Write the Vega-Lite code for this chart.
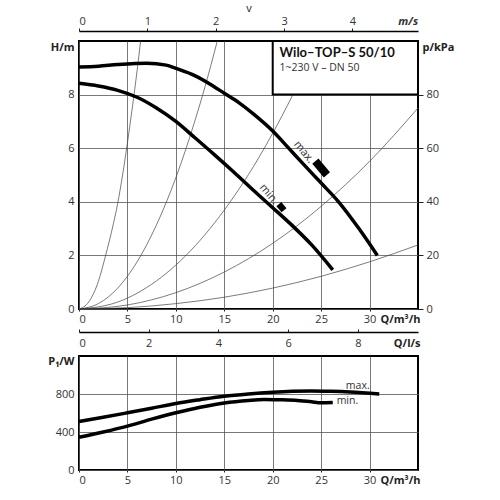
{
  "$schema": "https://vega.github.io/schema/vega-lite/v6.json",
  "background": "white",
  "padding": {"left": 46, "top": 1, "right": 5, "bottom": 5},
  "spacing": 47,
  "bounds": "flush",
  "config": {
    "font": "Open Sans",
    "view": {"stroke": "black", "strokeWidth": 2},
    "axis": {
      "labelFont": "Open Sans", "labelFontSize": 11, "labelColor": "#333",
      "titleFont": "Open Sans", "titleFontSize": 11, "titleColor": "#222", "titleFontWeight": "bold",
      "gridColor": "#555", "gridWidth": 0.8, "gridOpacity": 1,
      "tickColor": "#222", "domainColor": "#222"
    }
  },
  "datasets": {
    "system": [
      {"curve": "a", "Q": 0, "H": 0}, {"curve": "a", "Q": 1, "H": 0.26}, {"curve": "a", "Q": 2, "H": 1.03},
      {"curve": "a", "Q": 2.75, "H": 2.0}, {"curve": "a", "Q": 3.5, "H": 3.1}, {"curve": "a", "Q": 4, "H": 3.95},
      {"curve": "a", "Q": 4.5, "H": 5.0}, {"curve": "a", "Q": 5, "H": 6.2}, {"curve": "a", "Q": 5.5, "H": 7.5},
      {"curve": "a", "Q": 6, "H": 8.9}, {"curve": "a", "Q": 6.36, "H": 10},
      {"curve": "b", "Q": 0, "H": 0}, {"curve": "b", "Q": 2, "H": 0.2}, {"curve": "b", "Q": 4, "H": 0.78},
      {"curve": "b", "Q": 6, "H": 1.76}, {"curve": "b", "Q": 8, "H": 3.14}, {"curve": "b", "Q": 10, "H": 4.9},
      {"curve": "b", "Q": 12, "H": 7.06}, {"curve": "b", "Q": 13, "H": 8.28}, {"curve": "b", "Q": 14.28, "H": 10},
      {"curve": "c", "Q": 0, "H": 0}, {"curve": "c", "Q": 4, "H": 0.26}, {"curve": "c", "Q": 8, "H": 1.05},
      {"curve": "c", "Q": 12, "H": 2.36}, {"curve": "c", "Q": 16, "H": 4.2}, {"curve": "c", "Q": 18, "H": 5.31},
      {"curve": "c", "Q": 20, "H": 6.56}, {"curve": "c", "Q": 22, "H": 7.94}, {"curve": "c", "Q": 24.7, "H": 10},
      {"curve": "d", "Q": 0, "H": 0}, {"curve": "d", "Q": 5, "H": 0.15}, {"curve": "d", "Q": 10, "H": 0.61},
      {"curve": "d", "Q": 15, "H": 1.38}, {"curve": "d", "Q": 20, "H": 2.45}, {"curve": "d", "Q": 25, "H": 3.83},
      {"curve": "d", "Q": 30, "H": 5.51}, {"curve": "d", "Q": 35, "H": 7.5},
      {"curve": "e", "Q": 0, "H": 0}, {"curve": "e", "Q": 5, "H": 0.05}, {"curve": "e", "Q": 10, "H": 0.2},
      {"curve": "e", "Q": 15, "H": 0.44}, {"curve": "e", "Q": 20, "H": 0.78}, {"curve": "e", "Q": 25, "H": 1.22},
      {"curve": "e", "Q": 30, "H": 1.76}, {"curve": "e", "Q": 35, "H": 2.39}
    ],
    "head": [
      {"speed": "max", "Q": 0, "H": 9.03}, {"speed": "max", "Q": 2, "H": 9.06}, {"speed": "max", "Q": 4, "H": 9.12},
      {"speed": "max", "Q": 7, "H": 9.17}, {"speed": "max", "Q": 9, "H": 9.1}, {"speed": "max", "Q": 10, "H": 8.98},
      {"speed": "max", "Q": 12, "H": 8.7}, {"speed": "max", "Q": 13.5, "H": 8.4}, {"speed": "max", "Q": 15, "H": 8.05},
      {"speed": "max", "Q": 16.5, "H": 7.7}, {"speed": "max", "Q": 18, "H": 7.28}, {"speed": "max", "Q": 20, "H": 6.64},
      {"speed": "max", "Q": 21.6, "H": 6.02}, {"speed": "max", "Q": 23, "H": 5.47}, {"speed": "max", "Q": 25, "H": 4.7},
      {"speed": "max", "Q": 26.8, "H": 4.0}, {"speed": "max", "Q": 28.9, "H": 3.0}, {"speed": "max", "Q": 30.8, "H": 2.0},
      {"speed": "min", "Q": 0, "H": 8.42}, {"speed": "min", "Q": 2, "H": 8.32}, {"speed": "min", "Q": 4, "H": 8.16},
      {"speed": "min", "Q": 6, "H": 7.9}, {"speed": "min", "Q": 8, "H": 7.5}, {"speed": "min", "Q": 10, "H": 7.0},
      {"speed": "min", "Q": 12, "H": 6.38}, {"speed": "min", "Q": 14, "H": 5.75}, {"speed": "min", "Q": 16, "H": 5.1},
      {"speed": "min", "Q": 18, "H": 4.43}, {"speed": "min", "Q": 20, "H": 3.78}, {"speed": "min", "Q": 22, "H": 3.12},
      {"speed": "min", "Q": 24, "H": 2.4}, {"speed": "min", "Q": 26.2, "H": 1.46}
    ],
    "power": [
      {"speed": "max", "Q": 0, "P": 511}, {"speed": "max", "Q": 2.5, "P": 555}, {"speed": "max", "Q": 5, "P": 602},
      {"speed": "max", "Q": 7.5, "P": 650}, {"speed": "max", "Q": 10, "P": 700}, {"speed": "max", "Q": 12.5, "P": 740},
      {"speed": "max", "Q": 15, "P": 776}, {"speed": "max", "Q": 17.5, "P": 800}, {"speed": "max", "Q": 20, "P": 818},
      {"speed": "max", "Q": 22, "P": 828}, {"speed": "max", "Q": 24, "P": 832}, {"speed": "max", "Q": 26, "P": 828},
      {"speed": "max", "Q": 28, "P": 820}, {"speed": "max", "Q": 31, "P": 800},
      {"speed": "min", "Q": 0, "P": 344}, {"speed": "min", "Q": 2.5, "P": 400}, {"speed": "min", "Q": 5, "P": 462},
      {"speed": "min", "Q": 7.5, "P": 535}, {"speed": "min", "Q": 10, "P": 602}, {"speed": "min", "Q": 12.5, "P": 660},
      {"speed": "min", "Q": 15, "P": 706}, {"speed": "min", "Q": 17.5, "P": 732}, {"speed": "min", "Q": 19.1, "P": 741},
      {"speed": "min", "Q": 21, "P": 740}, {"speed": "min", "Q": 22.3, "P": 734}, {"speed": "min", "Q": 24, "P": 718},
      {"speed": "min", "Q": 25, "P": 708}, {"speed": "min", "Q": 26.2, "P": 710}
    ]
  },
  "vconcat": [
    {
      "width": 339,
      "height": 268,
      "layer": [
        {
          "encoding": {
            "x": {
              "field": "Q", "type": "quantitative",
              "scale": {"domain": [0, 35], "nice": false},
              "axis": {
                "values": [0, 5, 10, 15, 20, 25, 30], "grid": true, "domain": false,
                "tickSize": 2, "labelPadding": 2,
                "title": "Q/m³/h", "titleX": 341, "titleY": 10, "titleAlign": "right", "titleBaseline": "middle"
              }
            },
            "y": {
              "field": "H", "type": "quantitative",
              "scale": {"domain": [0, 10], "nice": false},
              "axis": {
                "values": [0, 2, 4, 6, 8], "grid": true, "domain": false,
                "tickSize": 0, "labelPadding": 5,
                "title": "H/m", "titleAngle": 0, "titleAlign": "right", "titleBaseline": "middle", "titleX": -5, "titleY": 6
              }
            }
          },
          "layer": [
            {
              "data": {"name": "system"},
              "mark": {"type": "line", "interpolate": "monotone", "stroke": "#444", "strokeWidth": 0.7},
              "encoding": {"detail": {"field": "curve"}}
            },
            {
              "data": {"values": [{"Q": 20, "Q2": 35, "H": 8, "H2": 10}]},
              "mark": {"type": "rect", "fill": "white", "stroke": "black", "strokeWidth": 2},
              "encoding": {"x2": {"field": "Q2"}, "y2": {"field": "H2"}}
            },
            {
              "data": {"values": [{"Q": 20.7, "H": 9.57, "label": "Wilo–TOP–S 50/10"}]},
              "mark": {"type": "text", "align": "left", "baseline": "middle", "font": "Lato", "fontSize": 13, "fontWeight": "bold", "color": "#111"},
              "encoding": {"text": {"field": "label"}}
            },
            {
              "data": {"values": [{"Q": 20.7, "H": 8.98, "label": "1~230 V – DN 50"}]},
              "mark": {"type": "text", "align": "left", "baseline": "middle", "fontSize": 10.5, "color": "#333"},
              "encoding": {"text": {"field": "label"}}
            },
            {
              "data": {"name": "head"},
              "mark": {"type": "line", "interpolate": "monotone", "stroke": "black", "strokeWidth": 3.5},
              "encoding": {"detail": {"field": "speed"}}
            },
            {
              "data": {"values": [{"Q": 23.2, "H": 5.85, "label": "max."}, {"Q": 19.6, "H": 4.28, "label": "min."}]},
              "mark": {"type": "text", "angle": 50, "align": "center", "baseline": "middle", "fontSize": 11, "color": "#333"},
              "encoding": {"text": {"field": "label"}}
            },
            {
              "data": {"values": [{"Q": 25.0, "H": 5.26}]},
              "mark": {"type": "point", "shape": "M-1,-0.45L1,-0.45L1,0.45L-1,0.45Z", "size": 324, "angle": 50, "filled": true, "color": "black", "opacity": 1},
              "encoding": {}
            },
            {
              "data": {"values": [{"Q": 20.9, "H": 3.8}]},
              "mark": {"type": "point", "shape": "M-1,-0.8L1,-0.8L1,0.8L-1,0.8Z", "size": 64, "angle": 50, "filled": true, "color": "black", "opacity": 1},
              "encoding": {}
            }
          ]
        },
        {
          "data": {"values": [{"a": 0, "p": 0}, {"a": 1, "p": 100}]},
          "mark": {"type": "point", "opacity": 0},
          "encoding": {
            "x": {"field": "a", "type": "quantitative", "axis": null},
            "y": {
              "field": "p", "type": "quantitative",
              "scale": {"domain": [0, 100], "nice": false},
              "axis": {
                "orient": "right", "values": [0, 20, 40, 60, 80], "grid": false, "domain": false,
                "tickSize": 5, "labelPadding": 3,
                "title": "p/kPa", "titleAngle": 0, "titleAlign": "left", "titleBaseline": "middle", "titleX": 4, "titleY": 6
              }
            }
          }
        },
        {
          "data": {"values": [{"v": 0, "a": 0}, {"v": 4.96, "a": 1}]},
          "mark": {"type": "point", "opacity": 0},
          "encoding": {
            "y": {"field": "a", "type": "quantitative", "axis": null},
            "x": {
              "field": "v", "type": "quantitative",
              "scale": {"domain": [0, 4.96], "nice": false},
              "axis": {
                "orient": "top", "offset": 10, "values": [0, 1, 2, 3, 4, 4.81], "grid": false,
                "domain": true, "domainWidth": 1.5, "domainColor": "black", "tickSize": 3, "labelPadding": 2,
                "labelExpr": "datum.value > 4.5 ? 'm/s' : datum.label",
                "tickOpacity": {"condition": {"test": "datum.value > 4.5", "value": 0}, "value": 1},
                "labelFontStyle": {"condition": {"test": "datum.value > 4.5", "value": "italic"}, "value": "normal"},
                "labelFontWeight": {"condition": {"test": "datum.value > 4.5", "value": "bold"}, "value": "normal"},
                "title": "v", "titleFontWeight": "normal", "titlePadding": 2
              }
            }
          }
        },
        {
          "data": {"values": [{"qs": 0, "a": 0}, {"qs": 9.7222, "a": 1}]},
          "mark": {"type": "point", "opacity": 0},
          "encoding": {
            "y": {"field": "a", "type": "quantitative", "axis": null},
            "x": {
              "field": "qs", "type": "quantitative",
              "scale": {"domain": [0, 9.7222], "nice": false},
              "axis": {
                "orient": "bottom", "offset": 23, "values": [0, 2, 4, 6, 8], "grid": false,
                "domain": false, "ticks": false, "labelPadding": 5,
                "title": "Q/l/s", "titleX": 341, "titleY": 11, "titleAlign": "right", "titleBaseline": "middle"
              }
            }
          }
        }
      ],
      "resolve": {"scale": {"x": "independent", "y": "independent"}}
    },
    {
      "width": 339,
      "height": 114,
      "layer": [
        {
          "encoding": {
            "x": {
              "field": "Q", "type": "quantitative",
              "scale": {"domain": [0, 35], "nice": false},
              "axis": {
                "values": [0, 5, 10, 15, 20, 25, 30], "grid": true, "domain": false,
                "tickSize": 2, "labelPadding": 2,
                "title": "Q/m³/h", "titleX": 341, "titleY": 10, "titleAlign": "right", "titleBaseline": "middle"
              }
            },
            "y": {
              "field": "P", "type": "quantitative",
              "scale": {"domain": [0, 1200], "nice": false},
              "axis": {
                "values": [0, 400, 800], "grid": true, "domain": false,
                "tickSize": 0, "labelPadding": 5,
                "title": "P₁/W", "titleAngle": 0, "titleAlign": "right", "titleBaseline": "middle", "titleX": -5, "titleY": 5
              }
            }
          },
          "layer": [
            {
              "data": {"name": "power"},
              "mark": {"type": "line", "interpolate": "monotone", "stroke": "black", "strokeWidth": 3.5},
              "encoding": {"detail": {"field": "speed"}}
            },
            {
              "data": {"values": [{"Q": 27.55, "P": 887, "label": "max."}, {"Q": 26.6, "P": 723, "label": "min."}]},
              "mark": {"type": "text", "align": "left", "baseline": "middle", "fontSize": 10.5, "color": "#333"},
              "encoding": {"text": {"field": "label"}}
            }
          ]
        },
        {
          "data": {"values": [{"qs": 0, "a": 0}, {"qs": 9.7222, "a": 1}]},
          "mark": {"type": "point", "opacity": 0},
          "encoding": {
            "y": {"field": "a", "type": "quantitative", "axis": null},
            "x": {
              "field": "qs", "type": "quantitative",
              "scale": {"domain": [0, 9.7222], "nice": false},
              "axis": {
                "orient": "top", "offset": 24, "values": [0, 2, 4, 6, 8], "grid": false,
                "domain": true, "domainWidth": 1.5, "domainColor": "black",
                "tickSize": 3, "labels": false, "title": null
              }
            }
          }
        }
      ],
      "resolve": {"scale": {"x": "independent", "y": "independent"}}
    }
  ]
}
